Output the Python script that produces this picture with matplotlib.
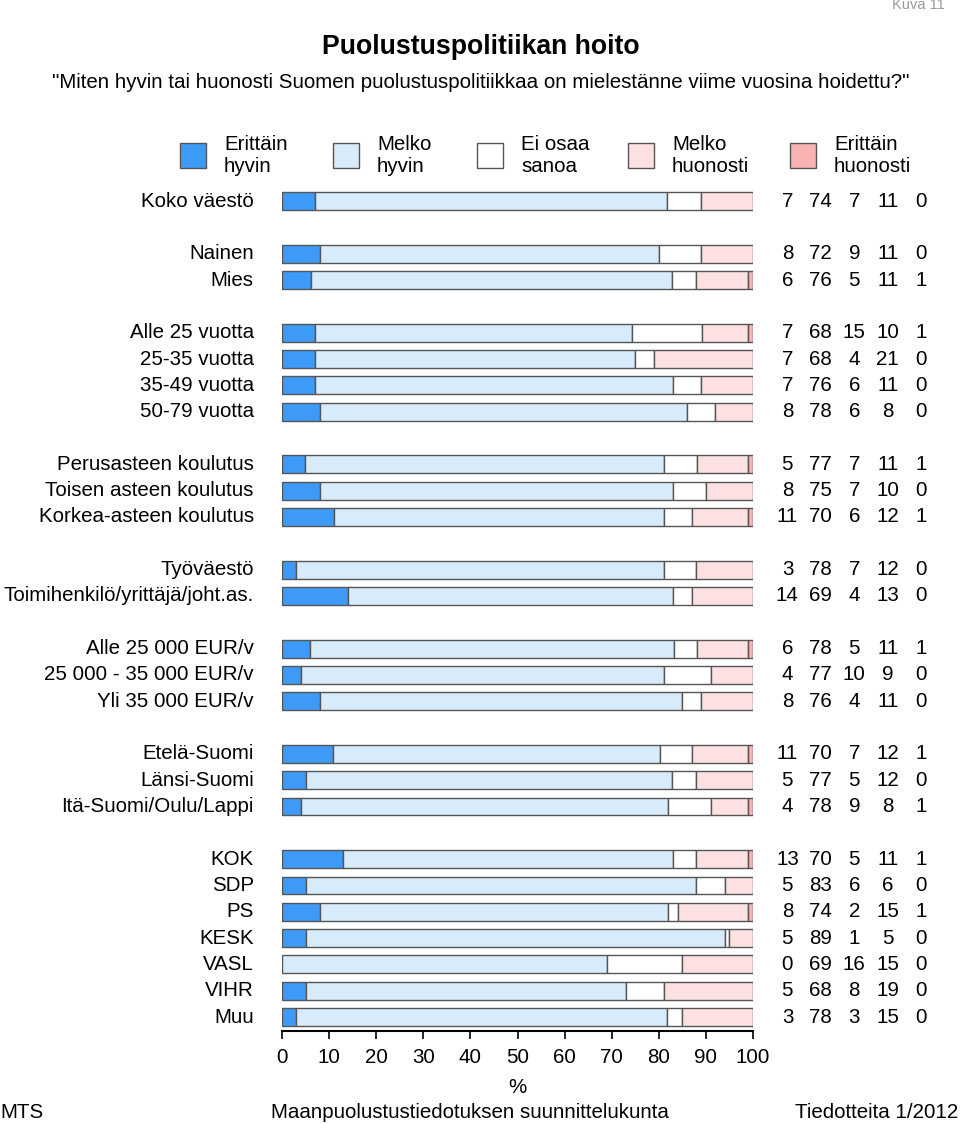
import matplotlib
matplotlib.use("Agg")
import matplotlib.pyplot as plt
from matplotlib.patches import Rectangle
import numpy as np

plt.rcParams['font.family'] = ['Liberation Sans', 'DejaVu Sans']

# data
groups = [
    ["Koko väestö"],
    ["Nainen", "Mies"],
    ["Alle 25 vuotta", "25-35 vuotta", "35-49 vuotta", "50-79 vuotta"],
    ["Perusasteen koulutus", "Toisen asteen koulutus", "Korkea-asteen koulutus"],
    ["Työväestö", "Toimihenkilö/yrittäjä/joht.as."],
    ["Alle 25 000 EUR/v", "25 000 - 35 000 EUR/v", "Yli 35 000 EUR/v"],
    ["Etelä-Suomi", "Länsi-Suomi", "Itä-Suomi/Oulu/Lappi"],
    ["KOK", "SDP", "PS", "KESK", "VASL", "VIHR", "Muu"],
]
erittain_hyvin = [7, 8, 6, 7, 7, 7, 8, 5, 8, 11, 3, 14, 6, 4, 8, 11, 5, 4, 13, 5, 8, 5, 0, 5, 3]
melko_hyvin = [74, 72, 76, 68, 68, 76, 78, 77, 75, 70, 78, 69, 78, 77, 76, 70, 77, 78, 70, 83, 74, 89, 69, 68, 78]
ei_osaa = [7, 9, 5, 15, 4, 6, 6, 7, 7, 6, 7, 4, 5, 10, 4, 7, 5, 9, 5, 6, 2, 1, 16, 8, 3]
melko_huonosti = [11, 11, 11, 10, 21, 11, 8, 11, 10, 12, 12, 13, 11, 9, 11, 12, 12, 8, 11, 6, 15, 5, 15, 19, 15]
erittain_huonosti = [0, 0, 1, 1, 0, 0, 0, 1, 0, 1, 0, 0, 1, 0, 0, 1, 0, 1, 1, 0, 1, 0, 0, 0, 0]

series_names = ["Erittäin\nhyvin", "Melko\nhyvin", "Ei osaa\nsanoa", "Melko\nhuonosti", "Erittäin\nhuonosti"]
colors = ["#3d9bf7", "#d8ebfb", "#ffffff", "#fde1e2", "#f9b2b2"]

W, H = 960, 1124
FS = 14.8
fig = plt.figure(figsize=(W / 100, H / 100), dpi=100)

# row slots: one empty slot between groups
labels = []
ypos = []
slot = 0
for g in groups:
    for lab in g:
        labels.append(lab)
        ypos.append(slot)
        slot += 1
    slot += 1
ypos = np.array(ypos, dtype=float)

data = np.array([erittain_hyvin, melko_hyvin, ei_osaa, melko_huonosti, erittain_huonosti], dtype=float)
shares = data / data.sum(axis=0) * 100

ax = fig.add_axes([282 / W, 1 - 1031 / H, (753 - 282) / W, (1031 - 188) / H])
left = np.zeros(len(labels))
for k in range(5):
    w = shares[k]
    m = w > 0
    ax.barh(ypos[m], w[m], left=left[m], height=0.68, color=colors[k],
            edgecolor="#555555", linewidth=1.0)
    left += w

ax.set_xlim(0, 100)
ax.set_ylim(31.53, -0.5)
for s in ["top", "right", "left"]:
    ax.spines[s].set_visible(False)
ax.spines["bottom"].set_linewidth(1.5)
ax.set_yticks([])
ax.set_xticks(np.arange(0, 101, 10))
ax.tick_params(axis="x", direction="out", length=6, width=1.2, labelsize=FS, pad=6)
ax.set_xlabel("%", fontsize=FS, labelpad=8)

# left labels and right numbers
for lab, y, col in zip(labels, ypos, data.T):
    ax.text(-6, y, lab, ha="right", va="center", fontsize=FS)
    for j, v in enumerate(col):
        ax.text(107.3 + j * 7.1, y, f"{int(v)}", ha="center", va="center", fontsize=FS)

# legend
leg_patch_x = [180, 333, 477, 628, 790]
for name, c, px in zip(series_names, colors, leg_patch_x):
    fig.patches.append(Rectangle((px / W, 1 - 168 / H), 26 / W, 25 / H,
                                 transform=fig.transFigure, facecolor=c,
                                 edgecolor="#555555", linewidth=1.0))
    fig.text((px + 44) / W, 1 - 155 / H, name, ha="left", va="center",
             fontsize=FS, linespacing=1.2)

fig.text(481 / W, 1 - 47 / H, "Puolustuspolitiikan hoito", ha="center", va="center",
         fontsize=19.2, fontweight="bold")
fig.text(481 / W, 1 - 82 / H,
         "\"Miten hyvin tai huonosti Suomen puolustuspolitiikkaa on mielestänne viime vuosina hoidettu?\"",
         ha="center", va="center", fontsize=FS)
fig.text(945 / W, 1 - 5 / H, "Kuva 11", ha="right", va="center", fontsize=10.5, color="#999999")
fig.text(0, 1 - 1112 / H, "MTS", ha="left", va="center", fontsize=FS)
fig.text(470 / W, 1 - 1112 / H, "Maanpuolustustiedotuksen suunnittelukunta", ha="center", va="center", fontsize=FS)
fig.text(958 / W, 1 - 1112 / H, "Tiedotteita 1/2012", ha="right", va="center", fontsize=FS)

fig.savefig("out.png", dpi=100)
